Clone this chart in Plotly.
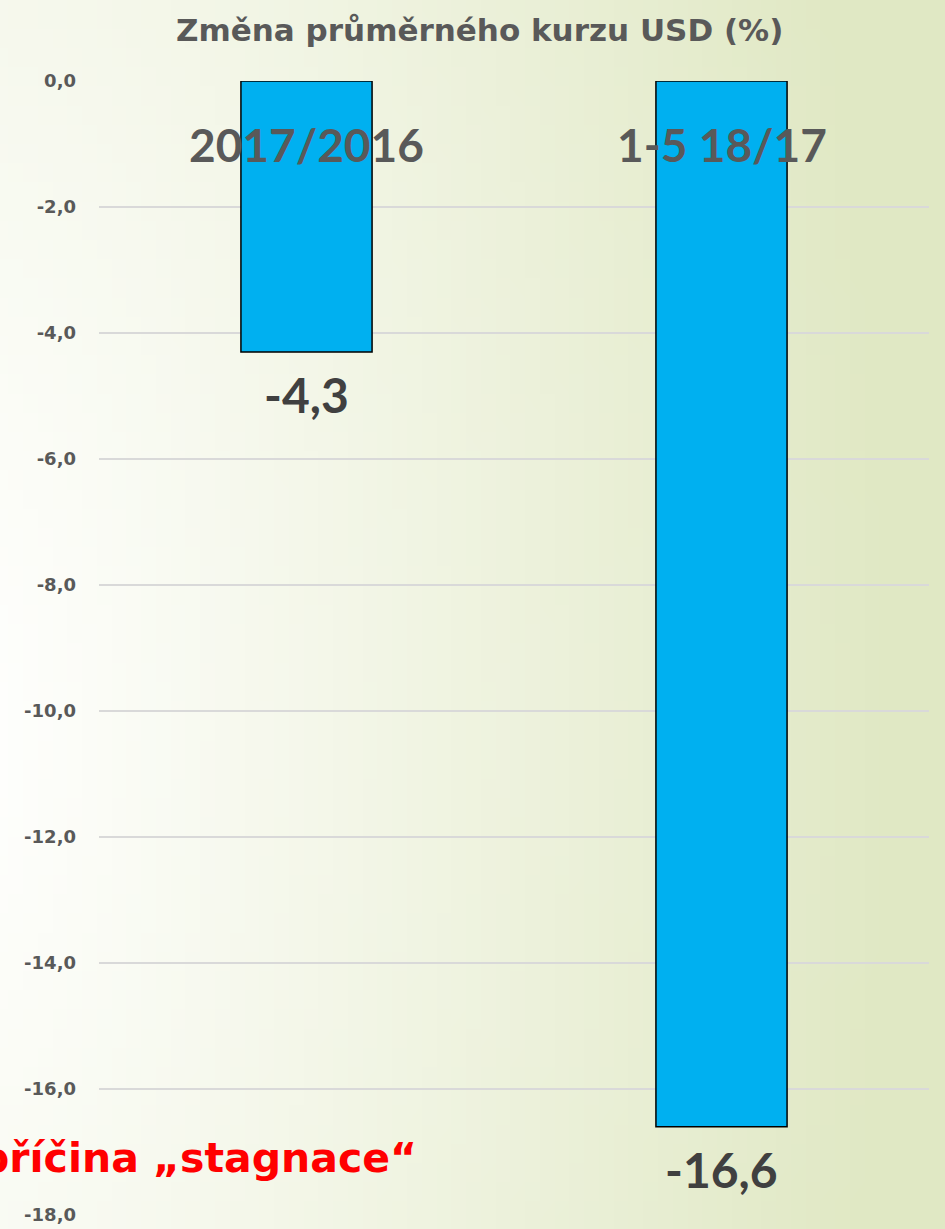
import base64, struct, zlib
import plotly.graph_objects as go

# ---- data ----
categories = ["2017/2016", "1-5 18/17"]
values = [-4.3, -16.6]
value_labels = ["-4,3", "-16,6"]
title_text = "Změna průměrného kurzu USD (%)"
note_text = "příčina „stagnace“"
tick_vals = [0, -2, -4, -6, -8, -10, -12, -14, -16, -18]
tick_text = ["0,0", "-2,0", "-4,0", "-6,0", "-8,0", "-10,0", "-12,0", "-14,0", "-16,0", "-18,0"]


# ---- background gradient as small PNG ----
def make_png(w, h):
    rows = b""
    c0 = (255, 255, 254)
    c1 = (224, 232, 196)
    for j in range(h):
        rows += b"\x00"
        for i in range(w):
            x = i / (w - 1)
            y = j / (h - 1)
            d = ((x + 0.05) ** 2 + ((y - 0.6) * 0.55) ** 2) ** 0.5
            t = min(1.0, max(0.0, d / 1.0))
            t = t ** 1.1
            px = tuple(int(round(c0[k] + (c1[k] - c0[k]) * t)) for k in range(3))
            rows += bytes(px)

    def chunk(tag, data):
        c = struct.pack(">I", len(data)) + tag + data
        return c + struct.pack(">I", zlib.crc32(tag + data) & 0xFFFFFFFF)

    png = b"\x89PNG\r\n\x1a\n"
    png += chunk(b"IHDR", struct.pack(">IIBBBBB", w, h, 8, 2, 0, 0, 0))
    png += chunk(b"IDAT", zlib.compress(rows, 9))
    png += chunk(b"IEND", b"")
    return "data:image/png;base64," + base64.b64encode(png).decode()


bg = make_png(64, 64)

GRAY = "#595959"
DARK = "#404040"
FONT_BIG = "Lato"
FONT_WIDE = "DejaVu Sans"

fig = go.Figure()
fig.add_trace(go.Bar(
    x=categories, y=values,
    marker=dict(color="#00B0F0", line=dict(color="#000000", width=1.5)),
    width=0.316,
    hoverinfo="skip",
))

annotations = []
for c, v, lab in zip(categories, values, value_labels):
    annotations.append(dict(x=c, y=v, xref="x", yref="y", text=f"<b>{lab}</b>",
                            showarrow=False, yanchor="middle", yshift=-43,
                            font=dict(family=FONT_BIG, size=48, color=DARK)))
    annotations.append(dict(x=c, y=-1.0, xref="x", yref="y", text=f"<b>{c}</b>",
                            showarrow=False, yanchor="middle",
                            font=dict(family=FONT_BIG, size=46, color=GRAY)))

annotations.append(dict(x=0.459, y=1, xref="paper", yref="paper", yshift=51,
                        text=f"<b>{title_text}</b>", showarrow=False,
                        yanchor="middle", xanchor="center",
                        font=dict(family=FONT_WIDE, size=31, color=GRAY)))
annotations.append(dict(x=0.386, y=-17.1, xref="paper", yref="y",
                        text=f"<b>{note_text}</b>", showarrow=False,
                        yanchor="middle", xanchor="right",
                        font=dict(family=FONT_WIDE, size=41, color="#FF0000")))

fig.update_layout(
    width=945, height=1229,
    margin=dict(l=99, r=16, t=81, b=14),
    paper_bgcolor="rgba(0,0,0,0)",
    plot_bgcolor="rgba(0,0,0,0)",
    showlegend=False,
    annotations=annotations,
    images=[dict(source=bg, xref="paper", yref="paper", x=-99 / 830, y=1 + 81 / 1134,
                 sizex=945 / 830, sizey=1229 / 1134, sizing="stretch",
                 xanchor="left", yanchor="top", layer="below")],
    xaxis=dict(showticklabels=False, showgrid=False, zeroline=False, showline=False,
               range=[-0.5, 1.5], automargin=False, fixedrange=True),
    yaxis=dict(range=[-18, 0], tickvals=tick_vals, ticktext=tick_text,
               showgrid=True, gridcolor="#d9d9d9", gridwidth=1.5,
               zeroline=False, showline=False, ticks="", automargin=False,
               ticklabelstandoff=22, fixedrange=True,
               tickfont=dict(family=FONT_WIDE, size=18, color=GRAY, weight="bold")),
)

fig.write_html("out.html", config={"displayModeBar": False},
               post_script="document.body.style.margin='0';document.body.style.overflow='hidden';")
